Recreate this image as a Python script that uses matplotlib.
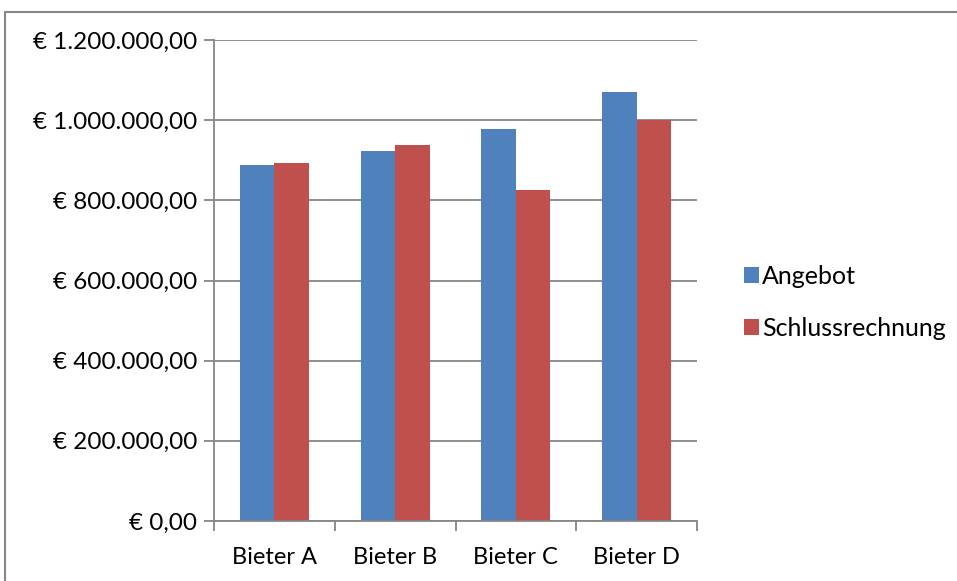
import numpy as np
import matplotlib.pyplot as plt
from matplotlib.patches import Rectangle
from matplotlib.ticker import FuncFormatter

# Data
bieter = ["Bieter A", "Bieter B", "Bieter C", "Bieter D"]
angebot = [888000, 923000, 978000, 1070000]
schlussrechnung = [893000, 938000, 825000, 1000000]

blue = "#4F81BD"
red = "#C0504D"
grid_col = "#868686"

plt.rcParams['font.family'] = ['Lato', 'DejaVu Sans']

fig = plt.figure(figsize=(9.57, 5.81), dpi=100)
ax = fig.add_axes([214 / 957, 1 - 521 / 581, (697 - 214) / 957, (521 - 40) / 581])

x = np.arange(len(bieter))
w = 0.285
ax.bar(x - w / 2, angebot, w, color=blue, label="Angebot", zorder=3)
ax.bar(x + w / 2, schlussrechnung, w, color=red, label="Schlussrechnung", zorder=3)

ax.set_xlim(-0.5, len(bieter) - 0.5)
ax.set_ylim(0, 1200000)
ax.set_yticks(np.arange(0, 1200001, 200000))


def euro(v, pos):
    s = f"{v:,.2f}".replace(",", "X").replace(".", ",").replace("X", ".")
    return f"€ {s}"


ax.yaxis.set_major_formatter(FuncFormatter(euro))
ax.set_xticks(x)
ax.set_xticklabels(bieter)
ax.set_xticks(np.arange(-0.5, len(bieter)), minor=True)
ax.tick_params(axis='x', which='major', length=0, pad=19, labelsize=17)
ax.tick_params(axis='x', which='minor', length=7, color=grid_col, width=1.3)
ax.tick_params(axis='y', length=7, color=grid_col, width=1.3, pad=5, labelsize=17.5)

ax.grid(axis='y', color=grid_col, linewidth=1.3, zorder=0)
for side in ['top', 'right']:
    ax.spines[side].set_visible(False)
for side in ['left', 'bottom']:
    ax.spines[side].set_color(grid_col)
    ax.spines[side].set_linewidth(1.3)
    ax.spines[side].set_zorder(4)

ax.legend(loc='center left', bbox_to_anchor=(1.05, 0.455), frameon=False,
          fontsize=18, handlelength=0.6, handleheight=0.6,
          handletextpad=0.15, labelspacing=1.15)

# outer chart border
fig.patches.append(Rectangle((5 / 957, -0.05), 2, 1 - 12 / 581 + 0.05,
                             transform=fig.transFigure, fill=False,
                             edgecolor=grid_col, linewidth=1.5))

fig.savefig("out.png", dpi=100)
